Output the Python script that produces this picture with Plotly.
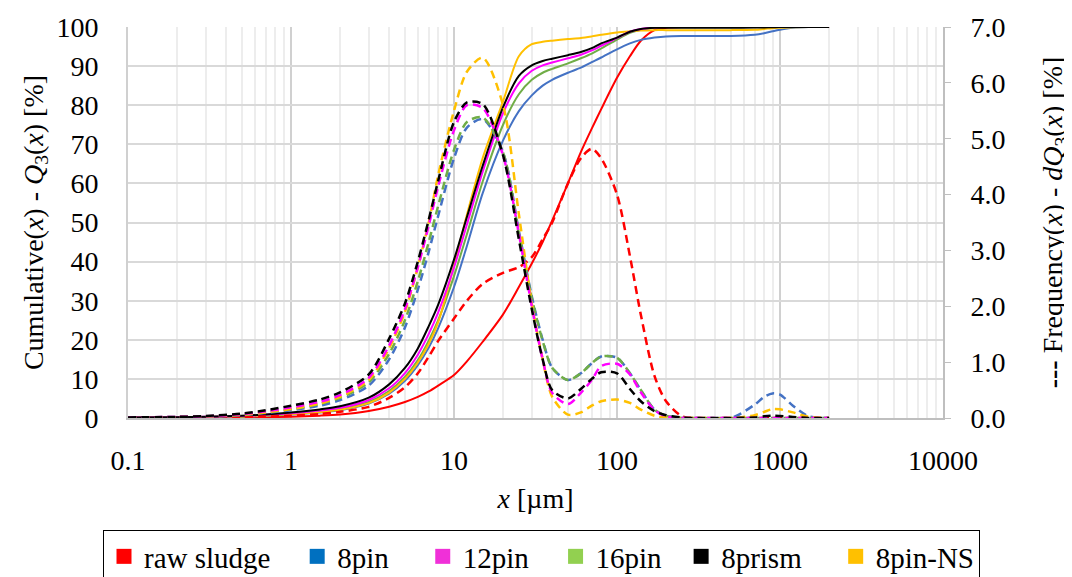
import plotly.graph_objects as go

# ---------------- data ----------------
x_um = [0.1, 0.2, 0.3, 0.5, 0.7, 1, 1.5, 2, 3, 4, 5, 6, 7, 8, 10, 12, 15, 20, 25, 30, 35, 40,
        50, 60, 70, 80, 100, 120, 140, 170, 200, 250, 300, 500, 700, 800, 900, 1000, 1200, 1500, 2000]

series_names = ["raw sludge", "8pin", "12pin", "16pin", "8prism", "8pin-NS"]

# cumulative Q3 [%]
cum_raw = [0, 0, 0.05, 0.1, 0.2, 0.35, 0.6, 0.9, 1.8, 2.9, 4.1, 5.4, 6.8, 8.3, 11, 14.5, 19.5, 26.5, 33.5, 39.5, 45, 50.5,
           60, 68, 74, 79, 87, 92.5, 96.5, 99.2, 99.8, 100, 100, 100, 100, 100, 100, 100, 100, 100, 100]
cum_8pin = [0.1, 0.15, 0.2, 0.35, 0.55, 0.9, 1.4, 2.0, 3.7, 6.2, 9.5, 13.5, 18, 23, 33.5, 44, 57.5, 71, 78.5, 82.5, 85, 86.5,
            88.3, 89.6, 91.0, 92.2, 94.3, 95.8, 96.7, 97.3, 97.6, 97.7, 97.7, 97.7, 98.0, 98.4, 98.9, 99.3, 99.8, 100, 100]
cum_12pin = [0.1, 0.2, 0.3, 0.5, 0.8, 1.2, 1.9, 2.6, 4.6, 7.6, 11.5, 16.2, 21.5, 27, 38.5, 49.5, 63, 78, 85.6, 88.8, 90.2, 90.9,
             92, 92.9, 94, 95.2, 97.2, 98.8, 99.5, 99.9, 100, 100, 100, 100, 100, 100, 100, 100, 100, 100, 100]
cum_16pin = [0.1, 0.15, 0.25, 0.4, 0.65, 1.0, 1.6, 2.3, 4.1, 6.9, 10.5, 14.8, 19.8, 25, 36.3, 47, 60.5, 75, 82.8, 86.5, 88.3, 89.3,
             90.7, 92.0, 93.2, 94.5, 96.8, 98.5, 99.3, 99.8, 100, 100, 100, 100, 100, 100, 100, 100, 100, 100, 100]
cum_8prism = [0.1, 0.2, 0.35, 0.6, 0.9, 1.4, 2.2, 3.0, 5.2, 8.6, 12.8, 17.8, 23.5, 29, 40.5, 51.4, 64.5, 79.5, 87.5, 90.2, 91.3, 91.9,
              92.8, 93.6, 94.6, 95.8, 97.3, 98.8, 99.5, 99.8, 99.8, 99.8, 99.8, 99.8, 99.85, 99.9, 99.95, 100, 100, 100, 100]
cum_8pinNS = [0.1, 0.15, 0.25, 0.4, 0.65, 1.0, 1.5, 2.1, 3.8, 6.5, 10, 14.2, 19, 24.5, 39, 52, 66.5, 81, 92.5, 95.6, 96.2, 96.5,
              96.9, 97.2, 97.6, 98.0, 98.6, 98.9, 99.1, 99.2, 99.2, 99.2, 99.2, 99.2, 99.3, 99.5, 99.7, 99.8, 99.95, 100, 100]

# frequency dQ3 [%]
frq_raw = [0, 0.005, 0.01, 0.015, 0.025, 0.04, 0.07, 0.11, 0.2, 0.36, 0.55, 0.8, 1.1, 1.38, 1.78, 2.1, 2.4, 2.6, 2.7, 2.88, 3.2, 3.5,
           4.2, 4.65, 4.82, 4.65, 4.0, 2.9, 1.85, 0.75, 0.3, 0.03, 0, 0, 0, 0, 0, 0, 0, 0, 0]
frq_8pin = [0.01, 0.015, 0.02, 0.05, 0.09, 0.14, 0.22, 0.32, 0.58, 1.05, 1.62, 2.3, 2.98, 3.62, 4.65, 5.2, 5.35, 4.75, 3.35, 2.18, 1.4, 0.9,
            0.68, 0.8, 0.98, 1.1, 1.08, 0.8, 0.5, 0.15, 0.04, 0, 0, 0, 0.24, 0.38, 0.44, 0.42, 0.22, 0.03, 0]
frq_12pin = [0.01, 0.02, 0.03, 0.07, 0.12, 0.19, 0.29, 0.41, 0.72, 1.3, 1.95, 2.7, 3.45, 4.15, 5.15, 5.6, 5.55, 4.7, 3.3, 2.0, 1.05, 0.45,
             0.25, 0.45, 0.68, 0.93, 0.97, 0.78, 0.46, 0.14, 0.03, 0, 0, 0, 0, 0, 0, 0, 0, 0, 0]
frq_16pin = [0.01, 0.015, 0.025, 0.06, 0.1, 0.16, 0.25, 0.36, 0.64, 1.15, 1.75, 2.45, 3.15, 3.8, 4.8, 5.3, 5.38, 4.75, 3.3, 2.15, 1.38, 0.9,
             0.68, 0.8, 0.98, 1.1, 1.08, 0.8, 0.5, 0.15, 0.04, 0, 0, 0, 0, 0, 0, 0, 0, 0, 0]
frq_8prism = [0.01, 0.02, 0.035, 0.08, 0.14, 0.22, 0.33, 0.46, 0.78, 1.42, 2.05, 2.8, 3.55, 4.25, 5.3, 5.65, 5.62, 4.7, 3.2, 1.95, 1.05, 0.5,
              0.35, 0.52, 0.7, 0.82, 0.8, 0.52, 0.3, 0.12, 0.05, 0.01, 0, 0, 0.01, 0.03, 0.04, 0.035, 0.02, 0, 0]
frq_8pinNS = [0.01, 0.015, 0.025, 0.06, 0.1, 0.16, 0.26, 0.38, 0.68, 1.25, 1.9, 2.7, 3.5, 4.35, 5.5, 6.2, 6.45, 5.6, 3.65, 2.05, 1.05, 0.38,
              0.06, 0.1, 0.22, 0.3, 0.33, 0.27, 0.15, 0.04, 0.01, 0, 0, 0, 0.05, 0.11, 0.16, 0.155, 0.1, 0.02, 0]

line_colors = ["#FF0000", "#4472C4", "#FF00FF", "#70AD47", "#000000", "#FFC000"]
legend_colors = ["#FF0000", "#0070C0", "#F030D8", "#92D050", "#000000", "#FFC000"]
legend_pad = [3, 4, 3, 2, 4, 0]  # trailing no-break spaces widening each legend entry

x_tickvals = [0.1, 1, 10, 100, 1000, 10000]
x_ticktext = ["0.1", "1", "10", "100", "1000", "10000"]

cums = [cum_raw, cum_8pin, cum_12pin, cum_16pin, cum_8prism, cum_8pinNS]
frqs = [frq_raw, frq_8pin, frq_12pin, frq_16pin, frq_8prism, frq_8pinNS]

FONT = "Liberation Serif"
FS = 28
W, H = 1064, 569   # page body has an 8 px margin inside the 1072x577 window
ML, MT, MB, MR = 120, 19, 159, 129
PW, PH = W - ML - MR, H - MT - MB

fig = go.Figure()
draw_order = [0, 1, 3, 5, 2, 4]
for i in draw_order:
    fig.add_trace(go.Scatter(x=x_um, y=frqs[i], mode="lines", yaxis="y2",
                             line=dict(color=line_colors[i], width=2.5, dash="8px,5px", shape="spline", smoothing=0.8),
                             showlegend=False, hoverinfo="skip"))
for i in draw_order:
    fig.add_trace(go.Scatter(x=x_um, y=cums[i], mode="lines",
                             line=dict(color=line_colors[i], width=2, shape="spline", smoothing=0.8),
                             showlegend=False, hoverinfo="skip"))
for i, name in enumerate(series_names):
    fig.add_trace(go.Scatter(x=[None], y=[None], mode="markers", name=name + "\u00a0" * legend_pad[i],
                             marker=dict(symbol="square", size=15, color=legend_colors[i])))

fig.update_layout(
    width=W, height=H,
    margin=dict(l=ML, r=MR, t=MT, b=MB, autoexpand=False),
    paper_bgcolor="white", plot_bgcolor="white",
    font=dict(family=FONT, size=FS, color="black"),
    xaxis=dict(type="log", range=[-1, 4], tickvals=x_tickvals, ticktext=x_ticktext,
               showgrid=True, gridcolor="#D0D0D0", gridwidth=2,
               minor=dict(dtick="D1", showgrid=True, gridcolor="#EDEDED", gridwidth=2, ticks=""),
               showline=True, linecolor="#BFBFBF", linewidth=2, ticks="", zeroline=False,
               ticklabelstandoff=16, automargin=False,
               title=dict(text="<i>x</i> [µm]", font=dict(family=FONT, size=FS), standoff=14),
               tickfont=dict(family=FONT, size=FS)),
    yaxis=dict(range=[0, 100], dtick=10, showgrid=True, gridcolor="#D9D9D9", gridwidth=2,
               showline=True, linecolor="#D0D0D0", linewidth=2, ticks="", zeroline=False,
               ticklabelstandoff=22, automargin=False,
               title=dict(text="Cumulative(<i>x</i>) - <i>Q</i><sub>3</sub>(<i>x</i>) [%]",
                          font=dict(family=FONT, size=FS), standoff=5),
               tickfont=dict(family=FONT, size=FS)),
    yaxis2=dict(range=[0, 7], dtick=1, tickformat=".1f", overlaying="y", side="right",
                showgrid=False, showline=True, linecolor="#BFBFBF", linewidth=2,
                ticks="outside", ticklen=6, tickcolor="#BFBFBF", tickwidth=1, zeroline=False,
                ticklabelstandoff=14, automargin=False,
                title=dict(text="<b>---</b> Frequency(<i>x</i>) - <i>dQ</i><sub>3</sub>(<i>x</i>) [%]",
                           font=dict(family=FONT, size=FS), standoff=38),
                tickfont=dict(family=FONT, size=FS)),
    legend=dict(orientation="h", x=(95 - ML) / PW, xanchor="left", xref="paper",
                y=(H - MB - 522) / PH, yanchor="top", yref="paper",
                bordercolor="black", borderwidth=1, font=dict(family=FONT, size=29),
                itemsizing="trace"),
)

fig.write_html("out.html")
